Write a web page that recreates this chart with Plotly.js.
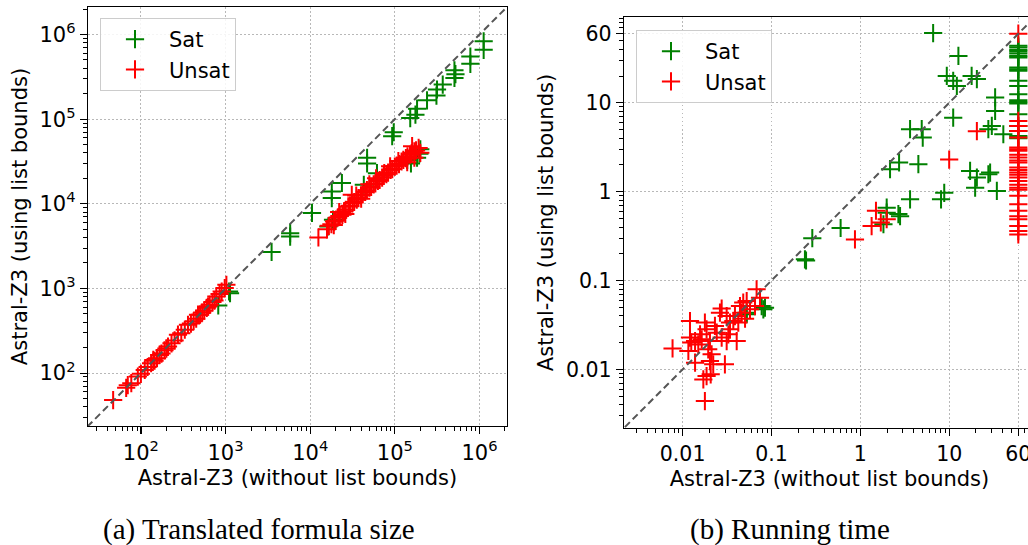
<!DOCTYPE html>
<html><head><meta charset="utf-8">
<script src="https://cdn.plot.ly/plotly-3.0.1.min.js"></script>
<style>html,body{margin:0;padding:0;overflow:hidden;background:#fff}#chart{width:1040px;height:545px}</style>
</head><body><div id="chart"></div><script>
// ---------- (a) Translated formula size ----------
const sizeSatX = [1.12e6,1.12e6,7.8e5,7.8e5,5.06e5,5.06e5,5.2e5,3.68e5,3.15e5,3.1e5,2.4e5,1.83e5,1.75e5,1.52e5,9.7e4,9.3e4,2.0e5,1.83e5,1.95e5,1.4e5,1.55e5,4.7e4,4.7e4,4.3e4,6.15e4,2.37e4,1.8e4,1.8e4,1.86e4,1.64e4,1.05e4,5.8e3,5.8e3,3.5e3,1130,1100,820];
const sizeSatY = [8.3e5,6.6e5,5.5e5,4.5e5,3.78e5,3.07e5,3.4e5,2.56e5,2.24e5,1.9e5,1.67e5,1.33e5,1.13e5,1.03e5,7.0e4,6.3e4,4.4e4,3.5e4,3.9e4,3.3e4,3.0e4,3.5e4,3.0e4,1.68e4,2.3e4,1.76e4,1.4e4,1.17e4,6.5e3,5.4e3,7.8e3,4.5e3,4.1e3,2.7e3,880,920,630];
const sizeUnsatX = [47,67,70,77,92,100,111,120,132,140,145,155,166,175,190,200,209,230,250,274,300,330,360,390,420,450,473,500,530,560,600,621,650,700,740,778,850,900,977,1023,
  1.58e4,1.66e4,1.78e4,1.91e4,2.0e4,2.14e4,2.24e4,2.4e4,2.51e4,2.63e4,2.82e4,2.95e4,3.16e4,3.31e4,3.55e4,3.72e4,3.98e4,4.17e4,4.47e4,4.68e4,5.01e4,5.25e4,5.62e4,5.89e4,6.31e4,6.61e4,7.08e4,7.41e4,7.94e4,8.32e4,8.91e4,9.33e4,1.0e5,1.05e5,1.12e5,1.2e5,1.26e5,1.35e5,1.41e5,1.51e5,1.58e5,1.7e5,1.78e5,1.91e5,
  3.1e4,8.8e4,1.6e5,2.0e5,1.7e5,1.4e5,6.0e4,2.2e4,1.9e4,2.6e4,4.0e4,5.0e4,7.5e4,1.1e5,3.5e4,1.25e4];
const sizeUnsatY = [48,67,72,76,91,98,109,118,131,143,140,150,164,170,186,195,206,225,243,284,296,325,372,385,410,440,490,490,520,545,590,612,640,690,720,803,860,920,1010,1105,
  5.0e3,5.5e3,5.75e3,6.17e3,6.3e3,6.9e3,7.2e3,7.4e3,8.1e3,8.5e3,9.3e3,9.5e3,1.02e4,1.05e4,1.12e4,1.17e4,1.26e4,1.29e4,1.38e4,1.45e4,1.55e4,1.58e4,1.7e4,1.74e4,1.86e4,1.91e4,2.04e4,2.14e4,2.24e4,2.34e4,2.51e4,2.57e4,2.75e4,2.82e4,2.95e4,3.16e4,3.31e4,3.47e4,3.63e4,3.8e4,3.98e4,4.17e4,4.27e4,4.57e4,
  1.28e4,2.77e4,4.8e4,4.0e4,3.5e4,3.1e4,2.0e4,8.0e3,5.6e3,7.6e3,1.15e4,1.7e4,2.3e4,3.2e4,1.25e4,4.0e3];
const sizeDiag = [10, 1e7];
const sizeTickVals = [1e2,1e3,1e4,1e5,1e6];
const sizeTickText = ['10<sup>2</sup>','10<sup>3</sup>','10<sup>4</sup>','10<sup>5</sup>','10<sup>6</sup>'];

// ---------- (b) Running time ----------
const timeSatX = [60,60,60,60,60,60,60,60,60,60,60,60,60,60,60,60,60,60,60,60,60,
  6.6,12.7,9.4,11.1,12.2,17.9,20.5,11.1,32.9,32.9,30.2,27.6,40.7,3.63,4.91,5.04,2.16,2.73,4.5,17.2,20.5,19.6,27.6,28.9,34.4,8.8,8.1,3.63,1.98,1.98,2.68,2.8,1.82,0.60,0.288,0.238,0.245,0.0526,0.0526,0.0775,0.0845,0.081];
const timeSatY = [44,42,39.4,37.8,35.9,33.7,32.4,25,23.9,22.9,17.7,15.5,12.5,10.7,10.2,9.8,7.45,5.5,4.83,4.24,4.0,
  61,33.7,20.1,17.7,15.5,20.1,18.5,6.8,11.5,8.1,5.5,5.05,4.43,5.05,5.05,4.06,1.79,2.13,2.04,1.71,1.44,1.11,1.57,1.64,1.02,0.97,0.82,0.82,0.66,0.58,0.56,0.53,0.43,0.39,0.30,0.173,0.168,0.0435,0.0417,0.0516,0.0495,0.0474];
const timeUnsatX = [60,60,60,60,60,60,60,60,60,60,60,60,60,60,60,60,60,60,60,60,60,60,60,60,60,60,60,60,60,
  20.5,10,1.5,1.34,1.98,1.7,0.87,
  0.0077,0.0121,0.0121,0.0116,0.0138,0.0178,0.0186,0.0164,0.015,0.0203,0.0194,0.0212,0.0203,0.0221,0.0186,0.0171,0.0207,0.0178,0.0299,0.0263,0.0275,0.0313,0.0341,0.0242,0.0275,0.0313,0.0327,0.0406,0.0372,0.0442,0.0461,0.0423,0.0481,0.0526,0.0573,0.068,0.0743,0.0652,0.0231,0.0157,0.0138,0.0125,0.0341,0.0388,0.0504];
const timeUnsatY = [60,6.25,5.5,4.83,4.06,3.14,3.0,2.88,2.6,2.42,2.25,2.13,1.87,1.75,1.64,1.55,1.44,1.32,1.2,1.11,1.05,0.9,0.72,0.61,0.53,0.49,0.41,0.36,0.33,
  4.8,2.3,0.61,0.41,0.49,0.45,0.29,
  0.0172,0.035,0.0228,0.0161,0.0119,0.0336,0.0282,0.0218,0.0191,0.0208,0.0168,0.0148,0.0124,0.0114,0.0084,0.0077,0.0088,0.0044,0.0114,0.0435,0.0483,0.0398,0.0336,0.0259,0.0228,0.0208,0.0248,0.0208,0.035,0.0516,0.0435,0.0336,0.0564,0.0588,0.0474,0.0796,0.0641,0.0516,0.0308,0.0248,0.0208,0.02,0.0282,0.0398,0.0372];
const timeDiag = [1e-3, 100];
const timeTickVals = [0.01,0.1,1,10,60];
const timeTickText = ['0.01','0.1','1','10','60'];

// ---------- styling ----------
const FONT = 'DejaVu Sans, sans-serif';
const GREEN = '#008000', RED = '#ff0000';
function minorVals(lo, hi){ const v=[]; for(let e=lo;e<=hi;e++){ for(let m=2;m<=9;m++) v.push(m*Math.pow(10,e)); } return v; }
function marker(c){ return {symbol:'cross-thin', size:13, color:c, line:{color:c, width:2}}; }
const diagLine = {color:'#555555', width:2, dash:'7px,4px'};

function axis(dom, range, tv, tt, minor, title, anchor, fs){
  return {type:'log', domain:dom, range:range, anchor:anchor,
    tickmode:'array', tickvals:tv, ticktext:tt,
    showline:true, linecolor:'#000', linewidth:1.3, mirror:true,
    ticks:'outside', ticklen:7, tickwidth:1.2, tickcolor:'#000',
    showgrid:true, gridcolor:'#b8b8b8', griddash:'1.5px,2.5px', gridwidth:1, zeroline:false,
    tickfont:{family:FONT, size:fs, color:'#000'},
    minor:{tickmode:'array', tickvals:minor, ticks:'outside', ticklen:3.5, tickwidth:1, tickcolor:'#000', showgrid:false},
    title:{text:title, font:{family:FONT, size:21, color:'#000'}, standoff:6},
    automargin:false, fixedrange:true};
}

const traces = [
  {x:sizeSatX, y:sizeSatY, xaxis:'x', yaxis:'y', mode:'markers', name:'Sat', marker:marker(GREEN), legend:'legend', cliponaxis:true},
  {x:sizeUnsatX, y:sizeUnsatY, xaxis:'x', yaxis:'y', mode:'markers', name:'Unsat', marker:marker(RED), legend:'legend', cliponaxis:true},
  {x:sizeDiag, y:sizeDiag, xaxis:'x', yaxis:'y', mode:'lines', line:diagLine, showlegend:false, hoverinfo:'skip'},
  {x:timeSatX, y:timeSatY, xaxis:'x2', yaxis:'y2', mode:'markers', name:'Sat', marker:marker(GREEN), legend:'legend2', cliponaxis:true},
  {x:timeUnsatX, y:timeUnsatY, xaxis:'x2', yaxis:'y2', mode:'markers', name:'Unsat', marker:marker(RED), legend:'legend2', cliponaxis:true},
  {x:timeDiag, y:timeDiag, xaxis:'x2', yaxis:'y2', mode:'lines', line:diagLine, showlegend:false, hoverinfo:'skip'}
];

const legendStyle = (x,y)=>({x:x, y:y, xanchor:'left', yanchor:'top', bgcolor:'rgba(255,255,255,0.85)', bordercolor:'#cccccc', borderwidth:1,
  font:{family:FONT, size:21, color:'#000'}, itemwidth:58, tracegroupgap:0});

const capFont = {family:'Liberation Serif, serif', size:29, color:'#000'};
const layout = {
  width:1040, height:545, margin:{l:0,r:0,t:0,b:0},
  paper_bgcolor:'#fff', plot_bgcolor:'#fff', font:{family:FONT, color:'#000'},
  xaxis: axis([88/1040, 507/1040], [1.375, 6.325], sizeTickVals, sizeTickText, minorVals(1,6), 'Astral-Z3 (without list bounds)', 'y', 21),
  yaxis: axis([119/545, 538/545], [1.375, 6.325], sizeTickVals, sizeTickText, minorVals(1,6), 'Astral-Z3 (using list bounds)', 'x', 21),
  xaxis2: axis([624/1040, 1035/1040], [-2.66, 1.966], timeTickVals, timeTickText, minorVals(-3,1), 'Astral-Z3 (without list bounds)', 'y2', 20.5),
  yaxis2: axis([117/545, 528/545], [-2.66, 1.966], timeTickVals, timeTickText, minorVals(-3,1), 'Astral-Z3 (using list bounds)', 'x2', 20.5),
  legend: legendStyle(100/1040, 1-18/545),
  legend2: legendStyle(636/1040, 1-30/545),
  showlegend:true,
  annotations:[
    {text:'(a) Translated formula size', xref:'paper', yref:'paper', x:259/1040, y:1-529/545, xanchor:'center', yanchor:'middle', showarrow:false, font:capFont},
    {text:'(b) Running time', xref:'paper', yref:'paper', x:790/1040, y:1-529/545, xanchor:'center', yanchor:'middle', showarrow:false, font:capFont}
  ]
};
Plotly.newPlot('chart', traces, layout, {staticPlot:true, displayModeBar:false});
</script></body></html>
